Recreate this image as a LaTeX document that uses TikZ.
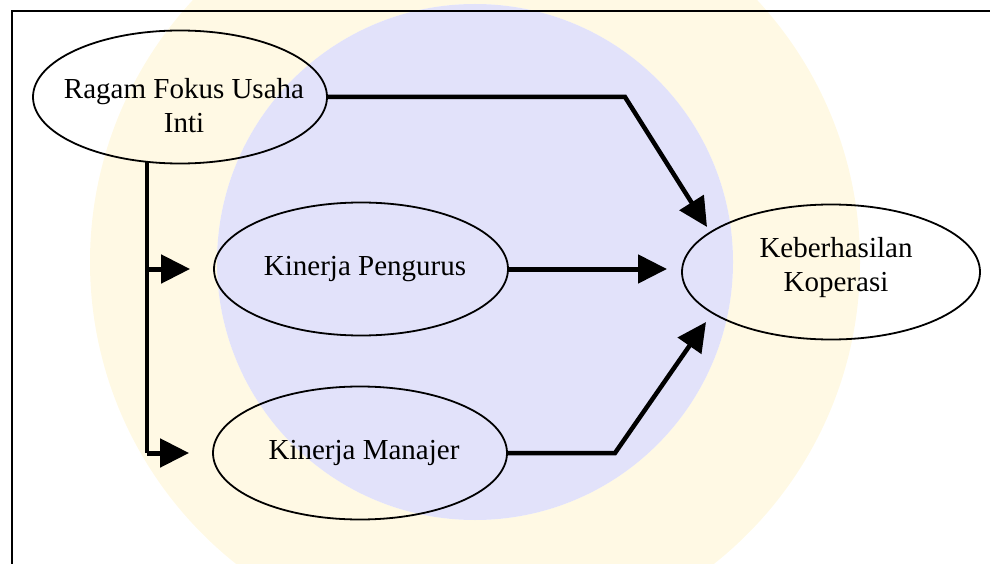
\documentclass[tikz,border=0pt]{standalone}
\usepackage{fontspec}
\setmainfont{Liberation Serif}
\usetikzlibrary{shapes.geometric,arrows.meta}
\definecolor{wmblue}{RGB}{226,226,250}
\definecolor{wmyellow}{RGB}{255,249,228}
\begin{document}
\begin{tikzpicture}[x=1pt,y=-1pt,
  oval/.style={draw=black, line width=1.8pt, ellipse, inner sep=0pt,
               minimum width=294pt, minimum height=133pt},
  lbl/.style={font=\fontsize{29}{34}\selectfont, align=center, inner sep=0pt},
  link/.style={line width=5pt, -{Triangle[length=29pt,width=28pt]}},
  slant/.style={line width=4.5pt, -{Triangle[length=29pt,width=28pt]}},
  trunk/.style={line width=3.5pt},
  frame/.style={line width=2.5pt}]
\useasboundingbox (0,0) rectangle (990,564);
\clip (0,0) rectangle (990,564);

% faint seal in the background
\fill[wmyellow, even odd rule] (475,262) circle [radius=385] (475,262) circle [radius=258];
\fill[wmblue] (475,262) circle [radius=258];

% page frame
\draw[frame] (12,600) -- (12,11) -- (1000,11);

% variables
\node[oval] (ragam) at (180,97) {};
\node[lbl] (ragamtxt) at (184,106) {Ragam Fokus Usaha\\Inti};
\node[oval] (pengurus) at (361,269) {};
\node[lbl] (pengurustxt) at (365,269) {Kinerja Pengurus};
\node[oval] (manajer) at (360,453) {};
\node[lbl] (manajertxt) at (364,453) {Kinerja Manajer};
\node[oval, minimum width=298pt, minimum height=135pt] (kop) at (831,272) {};
\node[lbl] (koptxt) at (836,268) {Keberhasilan\\Koperasi};

% bends and arrow ends
\coordinate (topbend) at (625,97);
\coordinate (topend) at (707,227);
\coordinate (midend) at (667,269);
\coordinate (lowbend) at (615,453);
\coordinate (lowend) at (706,322);
\coordinate (trunktop) at (147,162);
\coordinate (trunkmid) at (147,269);
\coordinate (trunklow) at (147,453);

% direct paths to the outcome
\draw[slant] (ragam.east) -- (topbend) -- (topend);
\draw[link] (pengurus.east) -- (midend);
\draw[slant] (manajer.east) -- (lowbend) -- (lowend);

% branching from the core business focus
\draw[trunk] (trunktop) -- (trunklow);
\draw[link] (trunkmid) -- ([xshift=-23pt]pengurus.west);
\draw[link] (trunklow) -- ([xshift=-23pt]manajer.west);
\end{tikzpicture}
\end{document}
